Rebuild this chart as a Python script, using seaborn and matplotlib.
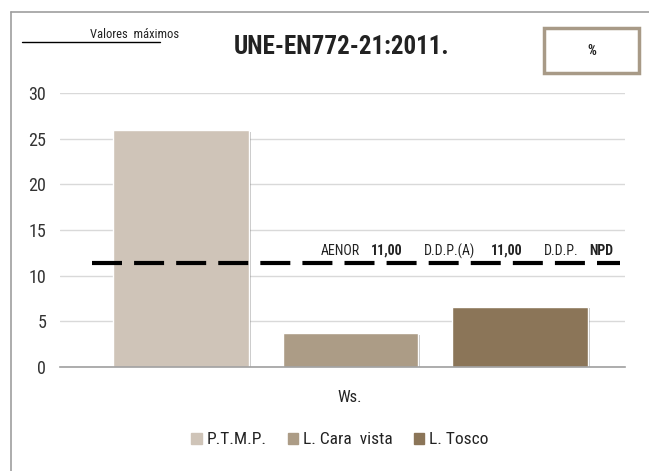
import numpy as np
import pandas as pd
import matplotlib
matplotlib.use("Agg")
import matplotlib.pyplot as plt
import matplotlib.patheffects as pe
from matplotlib import font_manager
import seaborn as sns

# ---- data ----
category = ["Ws."]
series = ["P.T.M.P.", "L. Cara  vista", "L. Tosco"]
values = [25.9, 3.7, 6.6]
limit_value = 11.4
limit_labels = ["AENOR", "11,00", "D.D.P.(A)", "11,00", "D.D.P.", "NPD"]
limit_bold = [False, True, False, True, False, True]
yticks = [0, 5, 10, 15, 20, 25, 30]
colors = ["#CFC4B8", "#AC9C86", "#8B7558"]

df = pd.DataFrame({"cat": category * len(series), "serie": series, "val": values})

sns.set_theme(style="white")
names = {f.name for f in font_manager.fontManager.ttflist}
narrow = None
for cand in ["Liberation Sans Narrow", "DejaVu Sans Condensed", "Roboto Condensed", "Open Sans Condensed"]:
    if cand in names:
        narrow = cand
        break
fam = [narrow, "DejaVu Sans"] if narrow else ["DejaVu Sans"]
plt.rcParams["font.family"] = fam

W, H = 649, 471
fig = plt.figure(figsize=(W / 100, H / 100), dpi=100)

def px(x, y):
    return x / W, 1 - y / H

ax = fig.add_axes([60 / W, 1 - 367 / H, 565 / W, (367 - 93) / H])
sns.barplot(data=df, x="cat", y="val", hue="serie", palette=colors, ax=ax,
            width=0.8, gap=0.2, legend=False, saturation=1)
for p in ax.patches:
    p.set_path_effects([pe.SimplePatchShadow(offset=(1.5, -1), alpha=0.3, shadow_rgbFace="#333333"), pe.Normal()])

ax.set_ylim(0, 30)
ax.set_xlim(-0.456, 0.431)
ax.set_yticks(yticks)
ax.set_yticklabels([str(t) for t in yticks], fontsize=13, color="#333333")
ax.tick_params(axis="y", length=0, pad=10)
ax.set_xticks([])
ax.set_xlabel("")
ax.set_ylabel("")
ax.yaxis.grid(True, color="#D9D9D9", linewidth=1)
ax.set_axisbelow(True)
for s in ["top", "right", "left"]:
    ax.spines[s].set_visible(False)
ax.spines["bottom"].set_color("#A0A0A0")
ax.spines["bottom"].set_linewidth(1.2)

# dashed limit line
x0, x1 = ax.get_xlim()
ax.plot([x0 + 32 / 637.5, x1 - 5 / 637.5], [limit_value, limit_value], color="black", linewidth=3,
        dashes=(7.2, 2.9), solid_capstyle="butt", dash_capstyle="butt", zorder=5)

# limit labels
label_x = [321, 371, 424, 491, 544, 589]
for t, b, xx in zip(limit_labels, limit_bold, label_x):
    fig.text(*px(xx, 251), t, fontsize=10, fontweight="bold" if b else "normal",
             color="#222222", ha="left", va="center")

# outer frame
fig.add_artist(plt.Line2D([11 / W, 11 / W], [0, 1 - 12 / H], transform=fig.transFigure, color="#9E9E9E", lw=1.2))
fig.add_artist(plt.Line2D([11 / W, 1], [1 - 12 / H, 1 - 12 / H], transform=fig.transFigure, color="#9E9E9E", lw=1.2))

# header
fig.text(*px(135, 34), "Valores  máximos", fontsize=9, color="#222222", ha="center", va="center")
fig.add_artist(plt.Line2D([22 / W, 160 / W], [1 - 42 / H, 1 - 42 / H], transform=fig.transFigure, color="black", lw=1))
fig.text(*px(342, 47), "UNE-EN772-21:2011.", fontsize=18, fontweight="bold", color="#222222", ha="center", va="center")
rect = plt.Rectangle((544 / W, 1 - 73 / H), 95 / W, 45 / H, transform=fig.transFigure,
                     fill=False, edgecolor="#A89A87", lw=2.5)
fig.add_artist(rect)
fig.text(*px(592, 51), "%", fontsize=10, fontweight="bold", color="#222222", ha="center", va="center")

# x label
fig.text(*px(350, 397), "Ws.", fontsize=12, color="#222222", ha="center", va="center")

# legend
handles = [plt.Rectangle((0, 0), 1, 1, color=c) for c in colors]
fig.legend(handles, series, loc="center", bbox_to_anchor=px(340, 440), ncol=3, frameon=False,
           fontsize=12.5, handlelength=0.6, handleheight=0.6, handletextpad=0.3, columnspacing=1.2,
           labelcolor="#222222")

fig.savefig("out.png", dpi=100)
